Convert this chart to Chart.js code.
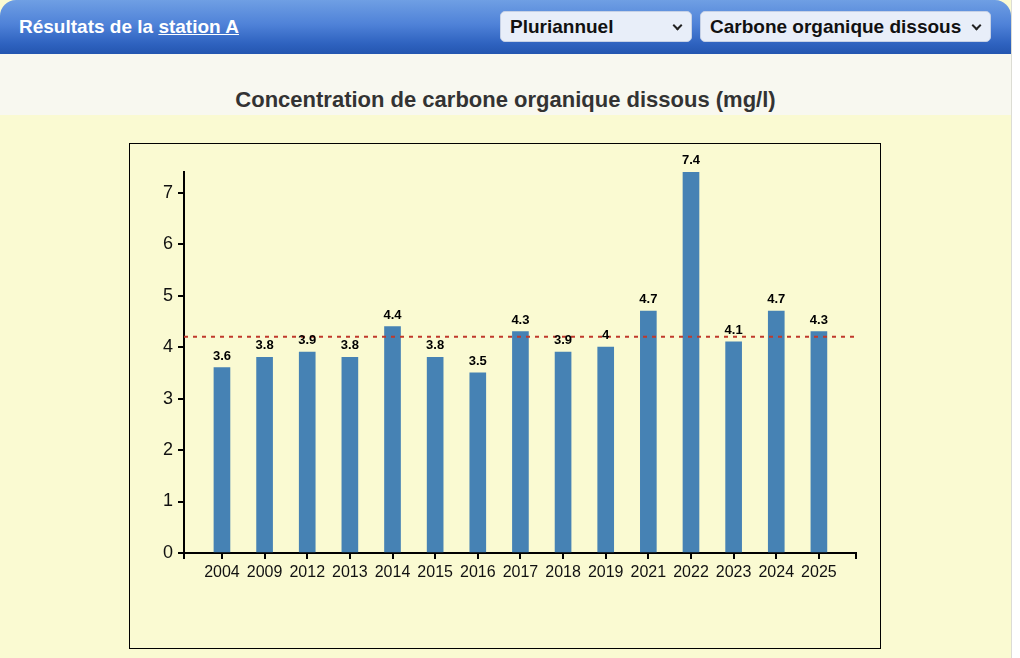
<!DOCTYPE html>
<html lang="fr">
<head>
<meta charset="utf-8">
<title>Résultats de la station A</title>
<script src="https://cdn.jsdelivr.net/npm/chart.js@4/dist/chart.umd.min.js"></script>
<style>
  html, body { margin: 0; padding: 0; background: #fff; width: 1020px; height: 658px; overflow: hidden; }
  body { font-family: "Liberation Sans", Arial, sans-serif; }
  .panel { position: absolute; left: 0; top: 0; width: 1011px; height: 658px; border-right: 1px solid #dcdcd4; background: #fafad2; }
  .header {
    position: absolute; left: 0; top: 0; width: 1011px; height: 54px;
    border-radius: 16px 16px 0 0;
    background: linear-gradient(#6f9fe4 0%, #4f82d8 45%, #2f63c0 80%, #2456b0 100%);
  }
  .header h1 { position: absolute; left: 19px; top: 16px; margin: 0; font-size: 19px; font-weight: bold; color: #fff; }
  .header h1 a { color: #fff; text-decoration: underline; }
  .select {
    position: absolute; top: 11px; height: 31px; box-sizing: border-box;
    background: #e8eef9; border: 1px solid #c6d1e6; border-radius: 5px;
    font-size: 19px; font-weight: bold; color: #111; line-height: 29px; padding-left: 9px;
  }
  .select::after {
    content: ''; position: absolute; right: 10px; top: 10px; width: 5px; height: 5px;
    border-right: 2px solid #222; border-bottom: 2px solid #222; transform: rotate(45deg);
  }
  .band { position: absolute; left: 0; top: 54px; width: 1011px; height: 61px; background: #f8f8f0; }
  .band h2 { margin: 0; position: absolute; left: 0; width: 1011px; top: 33px; text-align: center; font-size: 22px; font-weight: bold; color: #333; }
  .box { position: absolute; left: 129px; top: 143px; width: 750px; height: 504px; border: 1px solid #000; }
  canvas { position: absolute; left: 0; top: 0; }
</style>
</head>
<body>
<div class="panel">
  <div class="header">
    <h1>Résultats de la <a href="#">station A</a></h1>
    <div class="select" style="left:500px; width:192px;">Pluriannuel</div>
    <div class="select" style="left:700px; width:291px;">Carbone organique dissous</div>
  </div>
  <div class="band"><h2>Concentration de carbone organique dissous (mg/l)</h2></div>
  <div class="box"><canvas id="chart" width="750" height="504"></canvas></div>
</div>
<script>
const years = ['2004', '2009', '2012', '2013', '2014', '2015', '2016', '2017', '2018', '2019', '2021', '2022', '2023', '2024', '2025'];
const values = [3.6, 3.8, 3.9, 3.8, 4.4, 3.8, 3.5, 4.3, 3.9, 4, 4.7, 7.4, 4.1, 4.7, 4.3];
const threshold = 4.2;
const yTicks = [0, 1, 2, 3, 4, 5, 6, 7];
const yMax = 7.4;

const FONT = '"Liberation Sans", Arial, sans-serif';
const xMin = -0.89;
const xMax = years.length - 1 + 0.87;

// value labels above each bar
const barLabels = {
  id: 'barLabels',
  afterDatasetsDraw(chart) {
    const ctx = chart.ctx;
    const meta = chart.getDatasetMeta(0);
    ctx.save();
    ctx.font = 'bold 13px ' + FONT;
    ctx.fillStyle = '#000';
    ctx.textAlign = 'center';
    ctx.textBaseline = 'bottom';
    meta.data.forEach((bar, i) => {
      ctx.fillText(String(values[i]), bar.x, bar.y - 5);
    });
    ctx.restore();
  }
};

new Chart(document.getElementById('chart'), {
  type: 'bar',
  data: {
    datasets: [
      {
        type: 'bar',
        data: values.map((v, i) => ({ x: i, y: v })),
        backgroundColor: '#4682b4',
        barThickness: 16,
        order: 2
      },
      {
        type: 'line',
        data: [{ x: xMin, y: threshold }, { x: xMax, y: threshold }],
        borderColor: '#c0392b',
        borderWidth: 1.8,
        borderDash: [4, 5],
        pointRadius: 0,
        fill: false,
        order: 1
      }
    ]
  },
  options: {
    responsive: false,
    animation: false,
    layout: { padding: { left: 0, right: 24, top: 28, bottom: 0 } },
    plugins: { legend: { display: false }, tooltip: { enabled: false } },
    scales: {
      x: {
        type: 'linear',
        min: xMin,
        max: xMax,
        offset: false,
        afterFit(scale) { scale.height = 95; },
        afterBuildTicks(scale) {
          scale.ticks = [xMin, ...years.map((_, i) => i), xMax].map(v => ({ value: v }));
        },
        border: { display: true, color: '#000', width: 2 },
        grid: { offset: false, drawOnChartArea: false, color: '#000', lineWidth: 2, tickLength: 6 },
        ticks: {
          autoSkip: false,
          maxRotation: 0,
          padding: 4,
          color: '#111',
          font: { family: FONT, size: 16 },
          callback: (v) => Number.isInteger(v) && years[v] ? years[v] : ''
        }
      },
      y: {
        min: 0,
        max: yMax,
        afterFit(scale) { scale.width = 54; },
        afterBuildTicks(scale) { scale.ticks = yTicks.map(v => ({ value: v })); },
        border: { display: true, color: '#000', width: 2 },
        grid: { drawOnChartArea: false, color: '#000', lineWidth: 2, tickLength: 6 },
        ticks: {
          padding: 5,
          color: '#111',
          font: { family: FONT, size: 18 }
        }
      }
    }
  },
  plugins: [barLabels]
});
</script>
</body>
</html>
